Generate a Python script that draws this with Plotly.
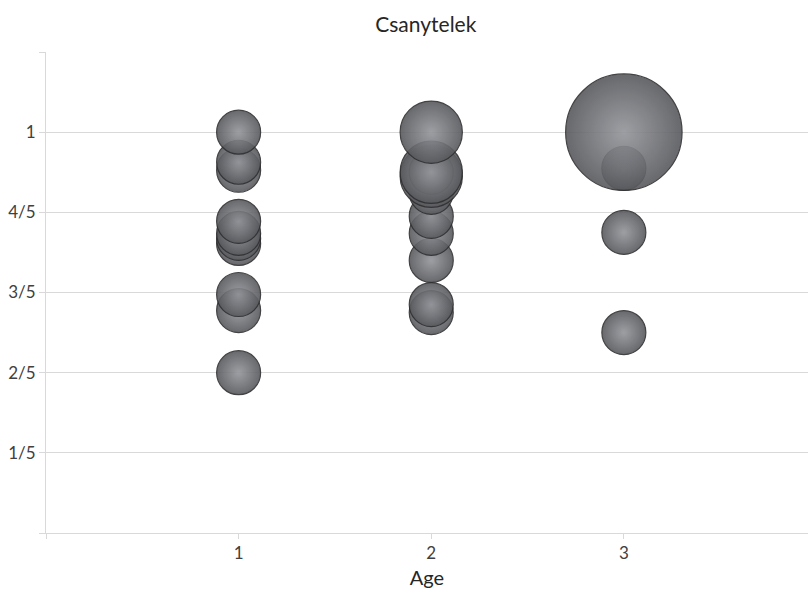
import plotly.graph_objects as go

# Respondents by age group: share value and number of cases
age = [1, 1, 1, 1, 1, 1, 1, 1, 1, 1,
       2, 2, 2, 2, 2, 2, 2, 2, 2, 2,
       3, 3, 3, 3]
share = [0.40, 0.555, 0.595, 0.7225, 0.735, 0.7475, 0.7775, 0.905, 0.925, 1.0,
         0.55, 0.57, 0.68, 0.7475, 0.79, 0.85, 0.89, 0.90, 0.90, 1.0,
         0.50, 0.75, 0.91, 1.0]
cases = [1, 1, 1, 1, 1, 1, 1, 1, 1, 1,
         1, 1, 1, 1, 1, 1, 2, 2, 1, 2,
         1, 1, 1, 7]

y_tickvals = [0, 0.2, 0.4, 0.6, 0.8, 1.0]
y_ticktext = ["", "1/5", "2/5", "3/5", "4/5", "1"]
x_tickvals = [0, 1, 2, 3]
x_ticktext = ["", "1", "2", "3"]

# draw lower points first so higher bubbles sit on top
order = sorted(range(len(share)), key=lambda i: (share[i], cases[i]))
xs = [age[i] for i in order]
ys = [share[i] for i in order]
ss = [cases[i] for i in order]

grid = "#d9d9d9"
label = "#404040"
font = "Lato, Open Sans, sans-serif"

fig = go.Figure(go.Scatter(
    x=xs, y=ys, mode="markers",
    marker=dict(
        size=ss, sizemode="area", sizeref=2 / 1936,
        color="#58595d",
        gradient=dict(type="radial", color="#94959a"),
        opacity=0.9,
        line=dict(color="#2f2f31", width=1.2),
    ),
    hoverinfo="x+y",
))

fig.update_layout(
    width=808, height=594,
    margin=dict(l=46, r=0, t=52, b=61),
    paper_bgcolor="white", plot_bgcolor="white",
    showlegend=False,
    title=dict(text="Csanytelek", x=0.527, xanchor="center", y=0.958, yanchor="middle",
               font=dict(family=font, size=21, color="#262626")),
    font=dict(family=font, color=label),
)

fig.update_xaxes(
    range=[0, 3.956], tickvals=x_tickvals, ticktext=x_ticktext,
    showgrid=False, zeroline=False,
    showline=True, linecolor=grid, linewidth=1,
    ticks="outside", ticklen=5, tickcolor=grid,
    tickfont=dict(size=17, color=label),
    title=dict(text="Age", font=dict(size=20, color="#262626"), standoff=8),
)
fig.update_yaxes(
    range=[0, 1.2], tickvals=y_tickvals, ticktext=y_ticktext,
    showgrid=True, gridcolor=grid, gridwidth=1, zeroline=False,
    showline=True, linecolor=grid, linewidth=1,
    ticks="outside", ticklen=6, tickcolor=grid,
    tickfont=dict(size=17, color=label),
    minor=dict(tickvals=[1.2], ticks="outside", ticklen=6, tickcolor=grid, showgrid=False),
)

fig.write_html("out.html")
